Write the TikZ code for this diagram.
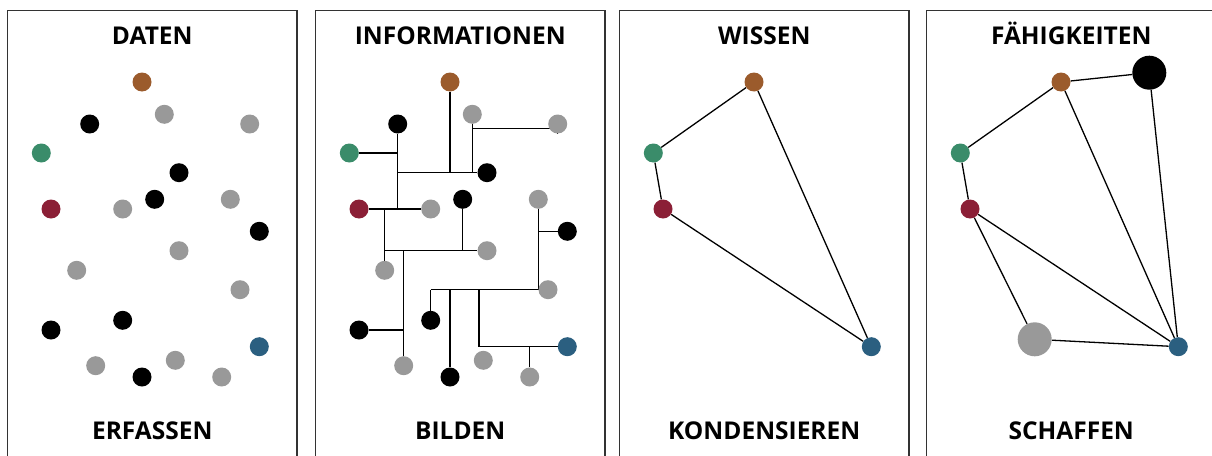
\documentclass[tikz,border=0pt]{standalone}
\usepackage{fontspec}
\setmainfont{Open Sans}
\usetikzlibrary{backgrounds,calc}
\definecolor{cbrown}{HTML}{9B5B2C}
\definecolor{cgreen}{HTML}{3A8C6A}
\definecolor{cred}{HTML}{8B1F36}
\definecolor{cblue}{HTML}{2B5F80}
\definecolor{cgray}{HTML}{999999}
\definecolor{cframe}{HTML}{333333}
\tikzset{
  dot/.style={circle,inner sep=0pt,minimum size=19pt,draw=none},
  bigdot/.style={circle,inner sep=0pt,minimum size=34pt,draw=none},
  frame/.style={draw=cframe,line width=1.3pt},
  lbl/.style={font=\fontsize{24.5}{28}\selectfont\bfseries,text=black,inner sep=0pt,anchor=base},
  conn/.style={draw=black,line width=1.3pt},
}
\begin{document}
\begin{tikzpicture}[x=1pt,y=-1pt]
\clip (0,0) rectangle (1212,455);
% frames and labels
\foreach \p/\dx/\t/\b in {a/0/DATEN/ERFASSEN,b/308/INFORMATIONEN/BILDEN,c/612/WISSEN/KONDENSIEREN,d/919/FÄHIGKEITEN/SCHAFFEN}{
  \draw[frame] (\dx+7.5,10.7) rectangle (\dx+297,480);
  \node[lbl] (\p-title) at (\dx+152.25,44.8) {\t};
  \node[lbl] (\p-bottom) at (\dx+152.25,439.8) {\b};
}
% panels 1 and 2: all points
\foreach \p/\dx in {a/0,b/308}{
\begin{scope}[xshift=\dx]
  \node[dot,fill=cbrown] (\p-br) at (142,82) {};
  \node[dot,fill=cgray]  (\p-g1) at (164.3,114.3) {};
  \node[dot,fill=black]  (\p-k1) at (89.7,124) {};
  \node[dot,fill=cgray]  (\p-g2) at (249.7,124) {};
  \node[dot,fill=cgreen] (\p-gr) at (41.3,153) {};
  \node[dot,fill=black]  (\p-k2) at (179,172.7) {};
  \node[dot,fill=black]  (\p-k3) at (154.7,199.3) {};
  \node[dot,fill=cgray]  (\p-g3) at (230.3,199.3) {};
  \node[dot,fill=cred]   (\p-rd) at (51,209) {};
  \node[dot,fill=cgray]  (\p-g4) at (122.7,209) {};
  \node[dot,fill=black]  (\p-k4) at (259.3,231.3) {};
  \node[dot,fill=cgray]  (\p-g5) at (179,250.7) {};
  \node[dot,fill=cgray]  (\p-g6) at (76.7,270.3) {};
  \node[dot,fill=cgray]  (\p-g7) at (240,289.7) {};
  \node[dot,fill=black]  (\p-k5) at (122.7,320.3) {};
  \node[dot,fill=black]  (\p-k6) at (51,330) {};
  \node[dot,fill=cblue]  (\p-bl) at (259.3,346.7) {};
  \node[dot,fill=cgray]  (\p-g8) at (175.3,360.3) {};
  \node[dot,fill=cgray]  (\p-g9) at (95.7,365.7) {};
  \node[dot,fill=black]  (\p-k7) at (142,377) {};
  \node[dot,fill=cgray]  (\p-g10) at (221.7,377) {};
\end{scope}
}
\coordinate (b-j1) at ($(b-g1 |- b-g2)+(0,4.7)$);
\coordinate (b-j2) at (479,0);
\begin{pgfonlayer}{background}
  \draw[conn] (b-k1 |- b-k2) -- (b-k2);
  \draw[conn] (b-br) -- (b-br |- b-k2);
  \draw[conn] (b-g1) -- (b-g1 |- b-k2);
  \draw[conn] (b-j1) -- (b-j1 -| b-g2) -- (b-g2);
  \draw[conn] (b-k1) -- (b-k1 |- b-rd);
  \draw[conn] (b-gr) -- (b-gr -| b-k1);
  \draw[conn] (b-rd) -- (b-g4);
  \draw[conn] (b-g6 |- b-rd) -- (b-g6);
  \draw[conn] (b-g6 |- b-g5) -- (b-g5);
  \draw[conn] (b-k3) -- (b-k3 |- b-g5);
  \draw[conn] (b-g9 |- b-g5) -- (b-g9);
  \draw[conn] (b-k6) -- (b-k6 -| b-g9);
  \draw[conn] (b-g3) -- (b-g3 |- b-g7);
  \draw[conn] (b-k5 |- b-g7) -- (b-g7);
  \draw[conn] (b-k4) -- (b-k4 -| b-g3);
  \draw[conn] (b-k5) -- (b-k5 |- b-g7);
  \draw[conn] (b-k7) -- (b-k7 |- b-g7);
  \draw[conn] (b-j2 |- b-g7) -- (b-j2 |- b-bl) -- (b-bl);
  \draw[conn] (b-g10) -- (b-g10 |- b-bl);
\end{pgfonlayer}
% panel 3
\node[dot,fill=cbrown] (c-br) at (754,82) {};
\node[dot,fill=cgreen] (c-gr) at (653.3,153) {};
\node[dot,fill=cred]   (c-rd) at (663,209) {};
\node[dot,fill=cblue]  (c-bl) at (871.3,346.7) {};
\begin{pgfonlayer}{background}
  \draw[conn] (c-br) -- (c-gr) -- (c-rd) -- (c-bl) -- (c-br);
\end{pgfonlayer}
% panel 4
\node[dot,fill=cbrown] (d-br) at (1061,82) {};
\node[dot,fill=cgreen] (d-gr) at (960.3,153) {};
\node[dot,fill=cred]   (d-rd) at (970,209) {};
\node[dot,fill=cblue]  (d-bl) at (1178.3,346.7) {};
\node[bigdot,fill=black] (d-kb) at (1149.3,72.7) {};
\node[bigdot,fill=cgray] (d-gb) at (1034.7,339.3) {};
\begin{pgfonlayer}{background}
  \draw[conn] (d-kb) -- (d-br) -- (d-gr) -- (d-rd) -- (d-bl) -- (d-br);
  \draw[conn] (d-kb) -- (d-bl);
  \draw[conn] (d-rd) -- (d-gb) -- (d-bl);
\end{pgfonlayer}
\end{tikzpicture}
\end{document}
